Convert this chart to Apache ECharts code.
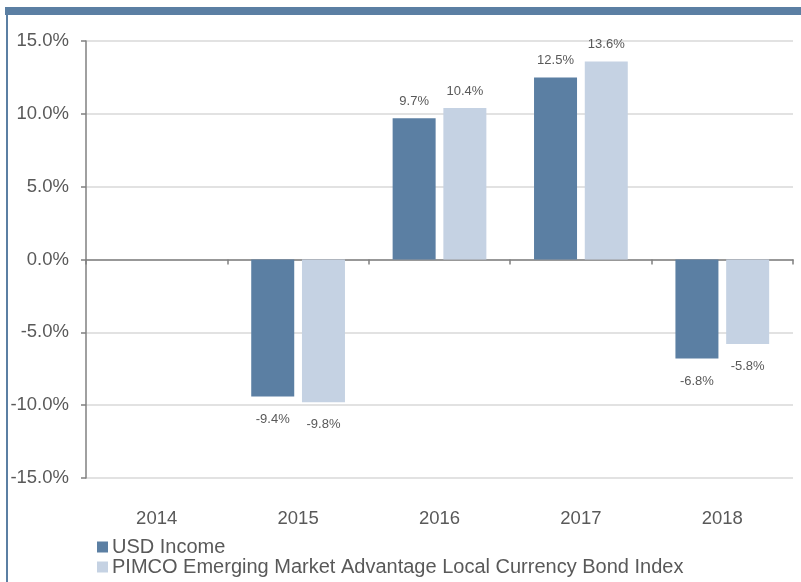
<!DOCTYPE html>
<html>
<head>
<meta charset="utf-8">
<script src="https://cdn.jsdelivr.net/npm/echarts@6/dist/echarts.min.js"></script>
<style>
    html, body { margin: 0; padding: 0; background: #fff; }
    #chart { width: 801px; height: 582px; }
</style>
</head>
<body>
<div id="chart"></div>
<script>
const years = ['2014', '2015', '2016', '2017', '2018']
const usdIncome = [null, -9.4, 9.7, 12.5, -6.8]
const pimcoIndex = [null, -9.8, 10.4, 13.6, -5.8]
const seriesNames = ['USD Income', 'PIMCO Emerging Market Advantage Local Currency Bond Index']

const darkBlue = '#5b7fa3'
const lightBlue = '#c5d2e3'
const textGray = '#595959'

// negative bars get their label underneath
function toItems(values) {
    return values.map(v => {
        if (v === null) return null
        return {
            value: v,
            label: { position: v < 0 ? 'bottom' : 'top', distance: v < 0 ? 16 : 10 }
        }
    })
}

function legendRow(name, top) {
    return {
        orient: 'vertical',
        left: 97,
        top: top,
        padding: 0,
        itemWidth: 11,
        itemHeight: 11,
        itemGap: 0,
        icon: 'rect',
        textStyle: { fontSize: 20, color: textGray, padding: [0, 0, 0, -1] },
        data: [name]
    }
}

const chart = echarts.init(document.getElementById('chart'))
const option = {
    animation: false,
    backgroundColor: '#fff',
    textStyle: { fontFamily: 'Liberation Sans, Arial, sans-serif' },
    graphic: [
        { type: 'rect', shape: { x: 5, y: 7, width: 796, height: 8 }, style: { fill: darkBlue } },
        { type: 'rect', shape: { x: 6, y: 7, width: 2, height: 575 }, style: { fill: darkBlue } }
    ],
    grid: { left: 86, right: 8, top: 41, bottom: 104 },
    legend: [
        legendRow(seriesNames[0], 537),
        legendRow(seriesNames[1], 557)
    ],
    xAxis: {
        type: 'category',
        data: years,
        axisLine: { onZero: true, lineStyle: { color: '#808080', width: 1.5 } },
        axisTick: { show: true, length: 5, lineStyle: { color: '#808080', width: 1.5 } },
        axisLabel: {
            fontSize: 18.5,
            color: textGray,
            margin: 31
        }
    },
    yAxis: {
        type: 'value',
        min: -15,
        max: 15,
        interval: 5,
        axisLine: { show: true, lineStyle: { color: '#808080', width: 1.5 } },
        axisTick: { show: true, length: 5, lineStyle: { color: '#808080', width: 1.5 } },
        axisLabel: {
            fontSize: 18.5,
            color: textGray,
            margin: 17,
            formatter: v => v.toFixed(1) + '%'
        },
        splitLine: { lineStyle: { color: '#d9d9d9', width: 1.5 } }
    },
    series: [
        {
            name: seriesNames[0],
            type: 'bar',
            data: toItems(usdIncome),
            barWidth: 43,
            barGap: '18%',
            itemStyle: { color: darkBlue },
            label: {
                show: true,
                fontSize: 13,
                color: textGray,
                formatter: p => p.value.toFixed(1) + '%'
            }
        },
        {
            name: seriesNames[1],
            type: 'bar',
            data: toItems(pimcoIndex),
            barWidth: 43,
            itemStyle: { color: lightBlue },
            label: {
                show: true,
                fontSize: 13,
                color: textGray,
                formatter: p => p.value.toFixed(1) + '%'
            }
        }
    ]
}
chart.setOption(option)
</script>
</body>
</html>
